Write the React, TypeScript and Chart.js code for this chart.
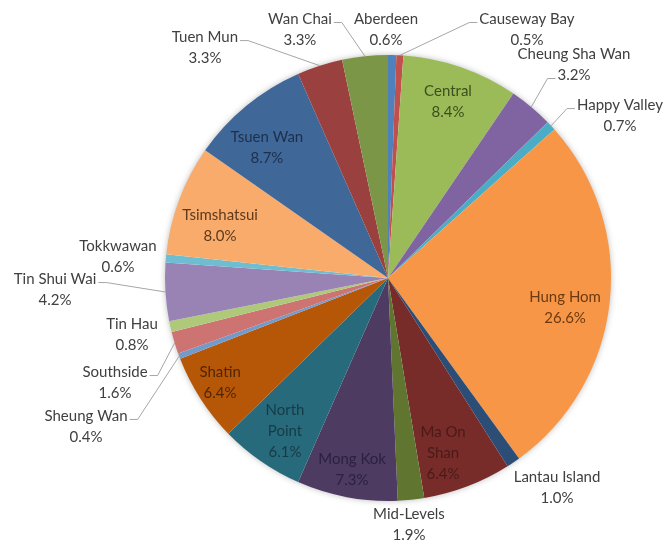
import React, { useEffect, useRef } from "react";
import { Chart, registerables } from "chart.js";

Chart.register(...registerables);

const districts = [
  "Aberdeen", "Causeway Bay", "Central", "Cheung Sha Wan", "Happy Valley", "Hung Hom",
  "Lantau Island", "Ma On Shan", "Mid-Levels", "Mong Kok", "North Point", "Shatin",
  "Sheung Wan", "Southside", "Tin Hau", "Tin Shui Wai", "Tokkwawan", "Tsimshatsui",
  "Tsuen Wan", "Tuen Mun", "Wan Chai",
];

const shares = [0.6, 0.5, 8.4, 3.2, 0.7, 26.6, 1.0, 6.4, 1.9, 7.3, 6.1, 6.4, 0.4, 1.6, 0.8, 4.2, 0.6, 8.0, 8.7, 3.3, 3.3];

const sliceColors = [
  "#4F81BD", "#C0504D", "#9BBB59", "#8064A2", "#4BACC6", "#F79646",
  "#2C4D75", "#772C2A", "#5F7530", "#4D3B62", "#276A7C", "#B65708",
  "#729ACA", "#CD7371", "#AFC97A", "#9983B5", "#6FBDD1", "#F9AB6B",
  "#3F6797", "#9A403E", "#7C9647",
];

// label text lines (wrapped as in the original)
const nameLines: string[][] = [
  ["Aberdeen"], ["Causeway Bay"], ["Central"], ["Cheung Sha Wan"], ["Happy Valley"], ["Hung Hom"],
  ["Lantau Island"], ["Ma On", "Shan"], ["Mid-Levels"], ["Mong Kok"], ["North", "Point"], ["Shatin"],
  ["Sheung Wan"], ["Southside"], ["Tin Hau"], ["Tin Shui Wai"], ["Tokkwawan"], ["Tsimshatsui"],
  ["Tsuen Wan"], ["Tuen Mun"], ["Wan Chai"],
];

const OUT = "#404040";
const labelColors = [
  OUT, OUT, "#3B4F1C", OUT, OUT, "#6B3A12",
  OUT, "#4A1A18", OUT, "#2B2140", "#163B45", "#4F2605",
  OUT, OUT, OUT, OUT, OUT, "#5B3A1F",
  "#1D2F4D", OUT, OUT,
];

// label block centre relative to pie centre, in units of the pie radius
type Placement = { rx: number; ry: number; leader?: { side: "L" | "R"; line: number } };
const placements: Placement[] = [
  { rx: -0.009, ry: -1.112 },
  { rx: 0.623, ry: -1.112, leader: { side: "L", line: 0 } },
  { rx: 0.269, ry: -0.789 },
  { rx: 0.834, ry: -0.955, leader: { side: "L", line: 1 } },
  { rx: 1.04, ry: -0.726, leader: { side: "L", line: 0 } },
  { rx: 0.794, ry: 0.135 },
  { rx: 0.758, ry: 0.942 },
  { rx: 0.247, ry: 0.785 },
  { rx: 0.094, ry: 1.108 },
  { rx: -0.161, ry: 0.861 },
  { rx: -0.462, ry: 0.686 },
  { rx: -0.753, ry: 0.471 },
  { rx: -1.354, ry: 0.668, leader: { side: "R", line: 0 } },
  { rx: -1.224, ry: 0.471, leader: { side: "R", line: 0 } },
  { rx: -1.148, ry: 0.256 },
  { rx: -1.493, ry: 0.054, leader: { side: "R", line: 0 } },
  { rx: -1.211, ry: -0.094 },
  { rx: -0.753, ry: -0.233 },
  { rx: -0.543, ry: -0.583 },
  { rx: -0.821, ry: -1.031, leader: { side: "R", line: 0 } },
  { rx: -0.395, ry: -1.112, leader: { side: "R", line: 0 } },
];

const FONT = "15px Lato";
const LINE_H = 21;

const shadowPlugin = {
  id: "pieShadow",
  beforeDatasetsDraw(chart: any) {
    const arc = chart.getDatasetMeta(0).data[0];
    if (!arc) return;
    const { x, y, outerRadius } = arc.getProps(["x", "y", "outerRadius"], true);
    const ctx = chart.ctx;
    ctx.save();
    ctx.shadowColor = "rgba(0,0,0,0.35)";
    ctx.shadowBlur = 7;
    ctx.fillStyle = "#ffffff";
    ctx.beginPath();
    ctx.arc(x, y, outerRadius - 1, 0, Math.PI * 2);
    ctx.fill();
    ctx.restore();
  },
};

const labelPlugin = {
  id: "sliceLabels",
  afterDatasetsDraw(chart: any) {
    const ctx = chart.ctx;
    const meta = chart.getDatasetMeta(0);
    ctx.save();
    ctx.font = FONT;
    ctx.textAlign = "center";
    ctx.textBaseline = "middle";
    meta.data.forEach((arc: any, i: number) => {
      const { x, y, startAngle, endAngle, outerRadius } = arc.getProps(
        ["x", "y", "startAngle", "endAngle", "outerRadius"], true);
      const r = outerRadius;
      const p = placements[i];
      const cx = x + p.rx * r;
      const cy = y + p.ry * r;
      const lines = [...nameLines[i], shares[i].toFixed(1) + "%"];
      const top = cy - ((lines.length - 1) * LINE_H) / 2;
      ctx.fillStyle = labelColors[i];
      lines.forEach((t, k) => ctx.fillText(t, cx, top + k * LINE_H));
      if (p.leader) {
        const w = ctx.measureText(lines[p.leader.line]).width;
        const ly = top + p.leader.line * LINE_H + 3;
        const dir = p.leader.side === "R" ? 1 : -1;
        const sx = cx + dir * (w / 2 + 2);
        const hx = sx + dir * 8;
        const mid = (startAngle + endAngle) / 2;
        const ax = x + Math.cos(mid) * r;
        const ay = y + Math.sin(mid) * r;
        ctx.beginPath();
        ctx.strokeStyle = "#A6A6A6";
        ctx.lineWidth = 1;
        ctx.moveTo(sx, ly);
        ctx.lineTo(hx, ly);
        ctx.lineTo(ax, ay);
        ctx.stroke();
      }
    });
    ctx.restore();
  },
};

export default function App() {
  const ref = useRef<HTMLCanvasElement | null>(null);
  useEffect(() => {
    if (!ref.current) return;
    const chart = new Chart(ref.current, {
      type: "pie",
      data: {
        labels: districts,
        datasets: [{ data: shares, backgroundColor: sliceColors, borderWidth: 0 }],
      },
      options: {
        animation: false,
        responsive: true,
        maintainAspectRatio: false,
        layout: { padding: { left: 165, right: 53, top: 55, bottom: 43 } },
        plugins: { legend: { display: false }, tooltip: { enabled: false } },
      },
      plugins: [shadowPlugin, labelPlugin],
    });
    return () => chart.destroy();
  }, []);
  return (
    <div style={{ position: "absolute", left: 0, top: 0, width: 664, height: 544, background: "#fff" }}>
      <canvas ref={ref} />
    </div>
  );
}
